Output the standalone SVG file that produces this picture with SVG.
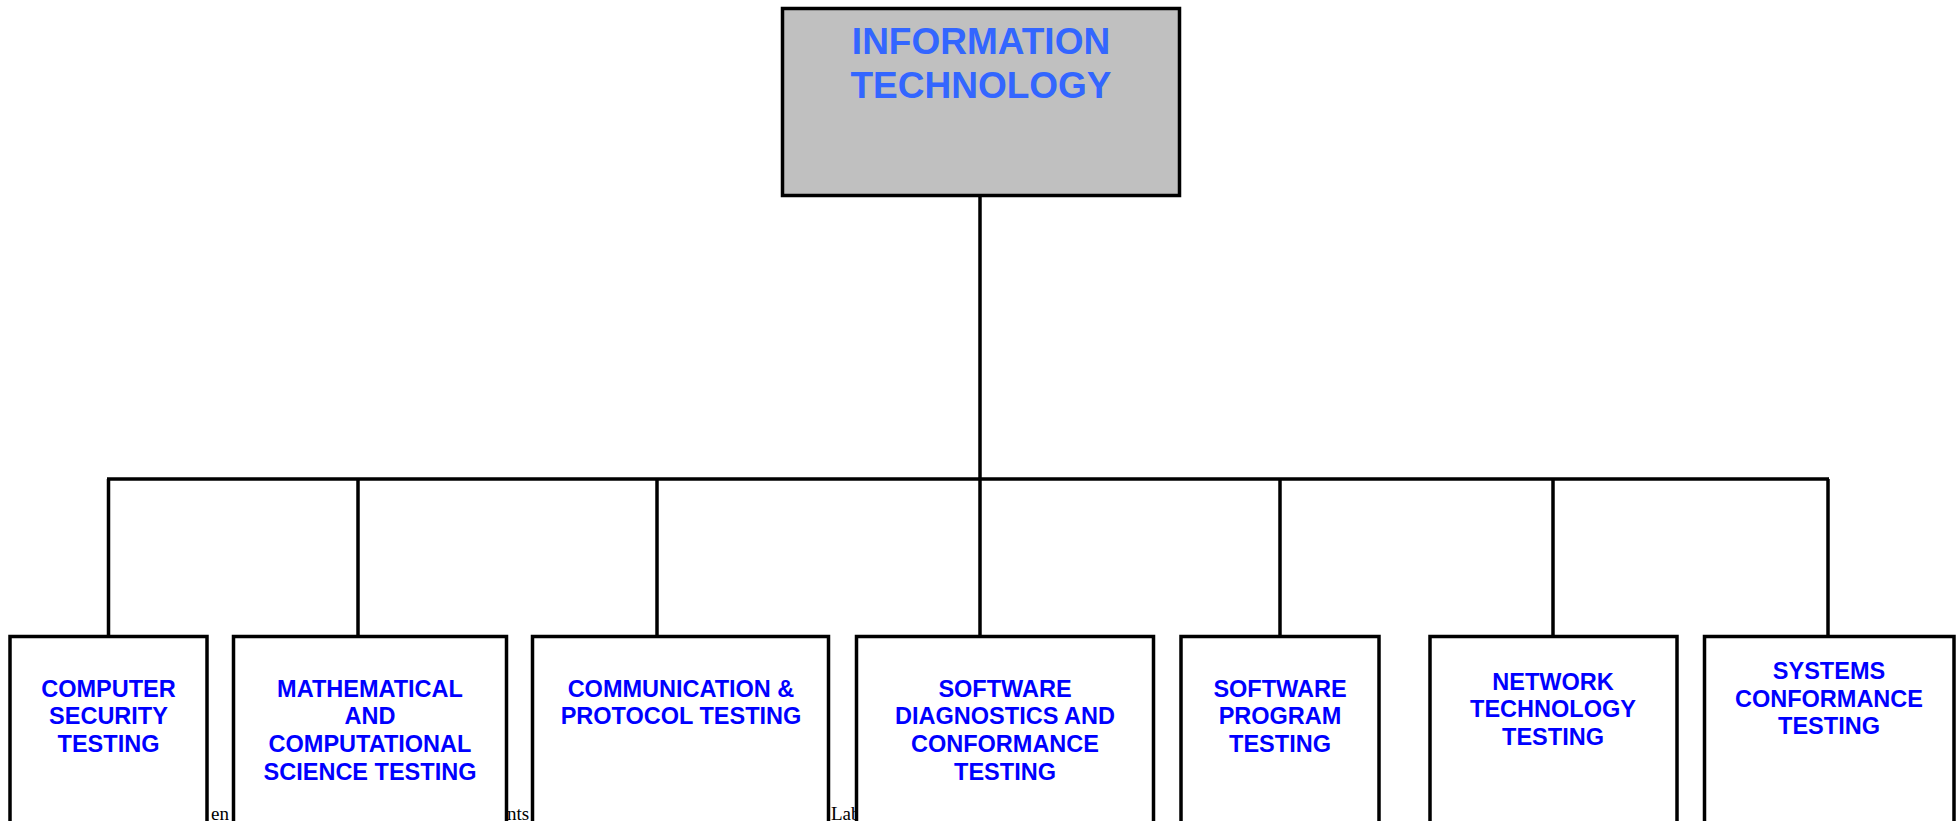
<svg xmlns="http://www.w3.org/2000/svg" width="1958" height="821" viewBox="0 0 1958 821">
<style>
.frag{font-family:"Liberation Serif","Times New Roman",serif;font-size:19px;fill:#000}
.box{fill:#fff;stroke:#000;stroke-width:3.5}
.top{fill:#C0C0C0;stroke:#000;stroke-width:3.5}
.tt{font-family:"Liberation Sans",Arial,sans-serif;font-weight:bold;font-size:37px;fill:#3366FF;text-anchor:middle}
.ct{font-family:"Liberation Sans",Arial,sans-serif;font-weight:bold;font-size:23.5px;fill:#0000FF;text-anchor:middle}
.conn{stroke:#000;stroke-width:3.5;fill:none}
</style>
<rect width="1958" height="821" fill="#fff"/>
<g id="fragments">
<text class="frag" x="211" y="820">en</text>
<text class="frag" x="507" y="820">nts</text>
<text class="frag" x="831" y="820">Lab</text>
</g>
<g id="connectors">
<line class="conn" x1="980" y1="196" x2="980" y2="479"/>
<line class="conn" x1="107" y1="479" x2="1829" y2="479"/>
<line class="conn" x1="108.5" y1="479" x2="108.5" y2="636"/>
<line class="conn" x1="358" y1="479" x2="358" y2="636"/>
<line class="conn" x1="657" y1="479" x2="657" y2="636"/>
<line class="conn" x1="980" y1="479" x2="980" y2="636"/>
<line class="conn" x1="1280" y1="479" x2="1280" y2="636"/>
<line class="conn" x1="1553" y1="479" x2="1553" y2="636"/>
<line class="conn" x1="1828" y1="479" x2="1828" y2="636"/>
</g>
<g id="it">
<rect class="top" x="782.5" y="8.5" width="397" height="187"/>
<text class="tt" x="981" y="54">INFORMATION</text>
<text class="tt" x="981" y="98">TECHNOLOGY</text>
</g>
<g id="n1">
<rect class="box" x="10" y="636.5" width="197" height="200"/>
<text class="ct" x="108.5" y="696.5">COMPUTER</text>
<text class="ct" x="108.5" y="724">SECURITY</text>
<text class="ct" x="108.5" y="752">TESTING</text>
</g>
<g id="n2">
<rect class="box" x="233.5" y="636.5" width="273" height="200"/>
<text class="ct" x="370" y="696.5">MATHEMATICAL</text>
<text class="ct" x="370" y="724">AND</text>
<text class="ct" x="370" y="752">COMPUTATIONAL</text>
<text class="ct" x="370" y="780">SCIENCE TESTING</text>
</g>
<g id="n3">
<rect class="box" x="532.5" y="636.5" width="296" height="200"/>
<text class="ct" x="681" y="696.5">COMMUNICATION &amp;</text>
<text class="ct" x="681" y="724">PROTOCOL TESTING</text>
</g>
<g id="n4">
<rect class="box" x="856.5" y="636.5" width="297" height="200"/>
<text class="ct" x="1005" y="696.5">SOFTWARE</text>
<text class="ct" x="1005" y="724">DIAGNOSTICS AND</text>
<text class="ct" x="1005" y="752">CONFORMANCE</text>
<text class="ct" x="1005" y="780">TESTING</text>
</g>
<g id="n5">
<rect class="box" x="1181" y="636.5" width="198" height="200"/>
<text class="ct" x="1280" y="696.5">SOFTWARE</text>
<text class="ct" x="1280" y="724">PROGRAM</text>
<text class="ct" x="1280" y="752">TESTING</text>
</g>
<g id="n6">
<rect class="box" x="1430" y="636.5" width="247" height="200"/>
<text class="ct" x="1553" y="689.5">NETWORK</text>
<text class="ct" x="1553" y="717">TECHNOLOGY</text>
<text class="ct" x="1553" y="745">TESTING</text>
</g>
<g id="n7">
<rect class="box" x="1704.5" y="636.5" width="249.5" height="200"/>
<text class="ct" x="1829" y="679">SYSTEMS</text>
<text class="ct" x="1829" y="706.5">CONFORMANCE</text>
<text class="ct" x="1829" y="734">TESTING</text>
</g>
</svg>
